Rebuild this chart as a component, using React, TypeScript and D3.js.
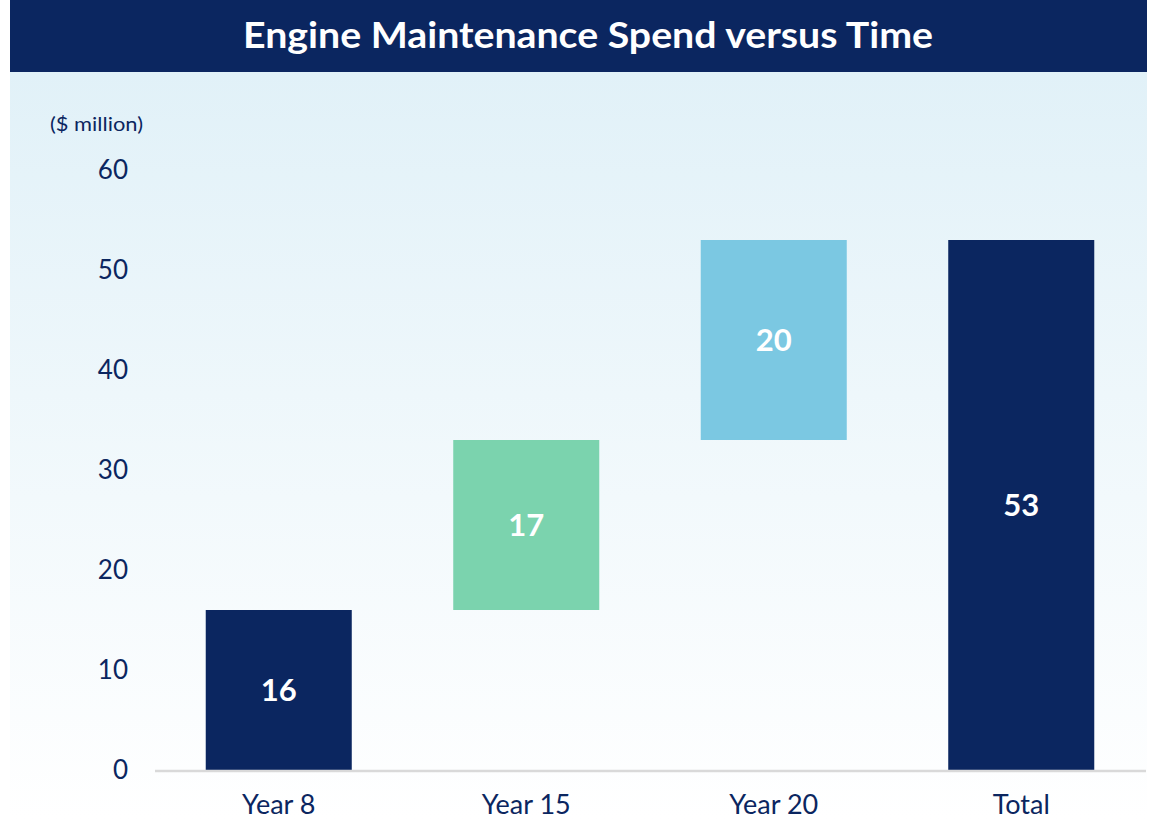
import React from 'react'
import * as d3 from 'd3'

const categories = ['Year 8', 'Year 15', 'Year 20', 'Total']
const values = [16, 17, 20, 53]
const isTotal = [false, false, false, true]
const barColors = ['#0b2660', '#7bd3ae', '#7bc8e2', '#0b2660']
const yTicks = [0, 10, 20, 30, 40, 50, 60]

const W = 1161
const H = 819
const NAVY = '#0b2660'
const FONT = 'Lato, "Open Sans", sans-serif'

export default function App() {
  // waterfall: each step floats on the running sum, the total starts at zero
  let run = 0
  const bars = values.map((v, i) => {
    const start = isTotal[i] ? 0 : run
    const end = start + v
    if (!isTotal[i]) run = end
    return { cat: categories[i], v, start, end, color: barColors[i] }
  })

  const x = d3.scaleBand<string>()
    .domain(categories)
    .range([155, 1145])
    .paddingInner(0.41)
    .paddingOuter(0.205)

  const y = d3.scaleLinear().domain([0, 60]).range([770, 170])

  return (
    <svg width={W} height={H} style={{ position: 'absolute', left: 0, top: 0 }}>
      <defs>
        <linearGradient id="bg" x1="0" y1="0" x2="0" y2="1">
          <stop offset="0" stopColor="#e1f1f8" />
          <stop offset="1" stopColor="#ffffff" />
        </linearGradient>
      </defs>
      <rect x={10} y={72} width={1137} height={H - 72} fill="url(#bg)" />
      <rect x={10} y={0} width={1137} height={72} fill={NAVY} />
      <text x={588} y={48} textAnchor="middle" fill="#fff" fontFamily={FONT}
        fontWeight={700} fontSize={36} textLength={690}
        lengthAdjust="spacingAndGlyphs">Engine Maintenance Spend versus Time</text>

      <text x={50} y={131} fill={NAVY} fontFamily={FONT} fontSize={20}
        textLength={93} lengthAdjust="spacingAndGlyphs">($ million)</text>

      {yTicks.map((t) => (
        <text key={t} x={128} y={y(t)} dy="0.35em" textAnchor="end" fill={NAVY}
          fontFamily={FONT} fontSize={26}>{t}</text>
      ))}

      {bars.map((b) => (
        <g key={b.cat}>
          <rect x={x(b.cat)} y={y(b.end)} width={x.bandwidth()}
            height={y(b.start) - y(b.end)} fill={b.color} />
          <text x={(x(b.cat) || 0) + x.bandwidth() / 2} y={y((b.start + b.end) / 2)}
            dy="0.36em" textAnchor="middle" fill="#fff" fontFamily={FONT}
            fontWeight={700} fontSize={31}>{b.v}</text>
          <text x={(x(b.cat) || 0) + x.bandwidth() / 2} y={805} dy="0.35em"
            textAnchor="middle" fill={NAVY} fontFamily={FONT} fontSize={27}>{b.cat}</text>
        </g>
      ))}

      <line x1={155} x2={1146} y1={771} y2={771} stroke="#d9d9d9" strokeWidth={2.5} />
    </svg>
  )
}
